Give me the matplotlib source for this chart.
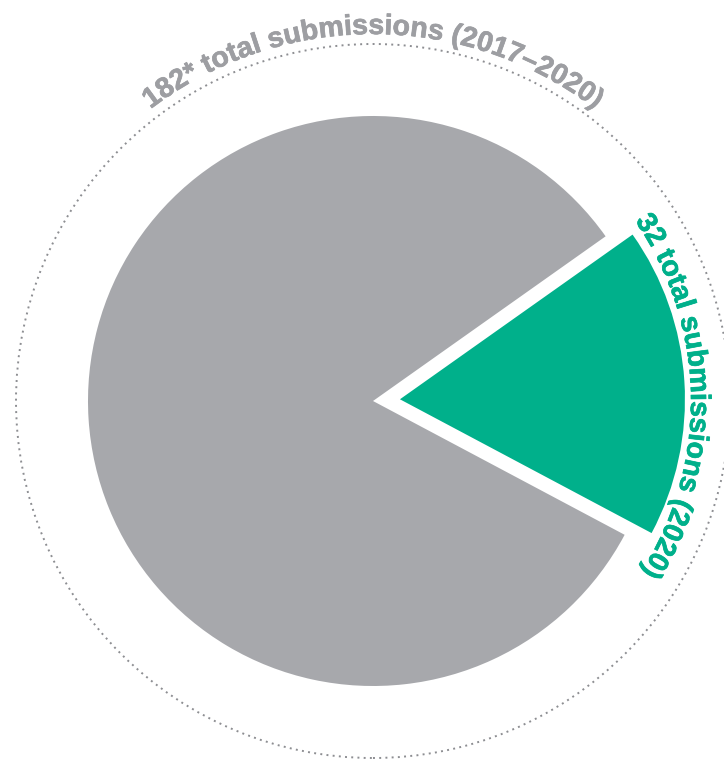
import numpy as np
import matplotlib
matplotlib.use("Agg")
import matplotlib.pyplot as plt
import matplotlib.patheffects as pe
from matplotlib.patches import Circle

# data
counts = [32, 150]            # 2020, rest of 2017-2019
colors = ["#00b08b", "#a7a8ac"]
label_all = "182* total submissions (2017–2020)"
label_2020 = "32 total submissions (2020)"

W, H = 724, 759
fig = plt.figure(figsize=(W / 100, H / 100), dpi=100)
ax = fig.add_axes([0, 0, 1, 1])

cx, cy = 373, H - 401
R = 285

# explode is in data units here (pixels)
ax.pie(counts, colors=colors, startangle=-28, counterclock=True,
       explode=[27, 0], center=(cx, cy), radius=R,
       wedgeprops=dict(linewidth=0))

# dotted outer ring
ax.add_patch(Circle((cx, cy), 357, fill=False, edgecolor="#8d8e92",
                    linewidth=1.4, linestyle=(0, (1, 2.2))))

ax.set_xlim(0, W)
ax.set_ylim(0, H)
ax.set_aspect("auto")
ax.axis("off")

renderer = fig.canvas.get_renderer()
font = dict(family="Liberation Sans", weight="bold", size=20.5)


def text_w(s):
    # width of s incl. spaces, measured between two bars
    t = ax.text(0, 0, "|" + s + "|", **font)
    w = t.get_window_extent(renderer).width
    t.remove()
    t = ax.text(0, 0, "||", **font)
    w0 = t.get_window_extent(renderer).width
    t.remove()
    return w - w0


def arc_text(s, r, mid_deg, color):
    total_w = text_w(s)
    for i, ch in enumerate(s):
        if ch == " ":
            continue
        d = (text_w(s[:i]) + text_w(s[:i + 1])) / 2
        th = np.radians(mid_deg) + (total_w / 2 - d) / r
        x = cx + r * np.cos(th)
        y = cy + r * np.sin(th)
        ax.text(x, y, ch, color=color, rotation=np.degrees(th) - 90,
                rotation_mode="anchor", ha="center", va="baseline",
                path_effects=[pe.withStroke(linewidth=0.5, foreground=color)],
                **font)


arc_text(label_all, 367, 90, "#9d9ea2")
arc_text(label_2020, 318, 1, "#00b08b")

fig.savefig("out.png", dpi=100, facecolor="white")
